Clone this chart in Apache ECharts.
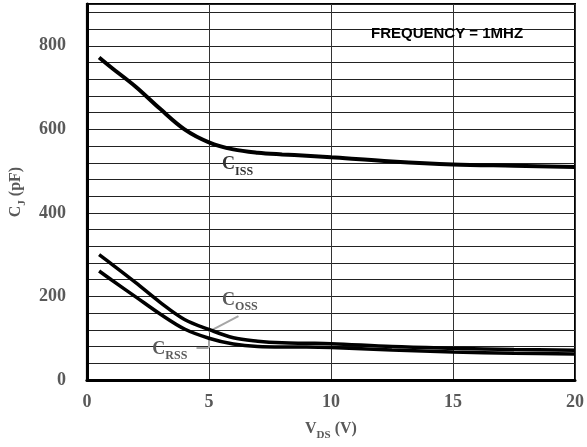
<!DOCTYPE html>
<html>
<head>
<meta charset="utf-8">
<script src="https://cdn.jsdelivr.net/npm/echarts@6/dist/echarts.min.js"></script>
<style>
html, body { margin: 0; padding: 0; background: #fff; }
#chart { width: 587px; height: 447px; }
</style>
</head>
<body>
<div id="chart"></div>
<script>
// drain voltage (V) and junction capacitances (pF)
var vds  = [0.5, 1, 2, 3, 4, 5, 6, 7, 8, 9, 10, 12.5, 15, 17.5, 20];
var ciss = [772, 748, 702, 649, 600, 569, 552, 544, 540, 537, 533, 523, 516, 513, 510];
var coss = [300, 278, 233, 186, 145, 121, 101, 93, 89, 88, 87, 80, 76, 73, 71];
var crss = [261, 240, 199, 158, 122, 100, 86, 80, 79, 79, 78, 72, 67, 64, 62];

// curve names and where their tags sit (data units)
var tagNames = ['ISS', 'OSS', 'RSS'];
var tagAt = [[5.54, 511], [5.54, 186], [2.68, 69]];
// leader lines from tags to curves
var leaders = [
    [[6.21, 153], [4.98, 115]],
    [[4.49, 77], [4.98, 77]],
    [[4.98, 77], [4.98, 98]]
];

function pairs(xs, ys) {
    return xs.map(function (x, i) { return [x, ys[i]]; });
}

var serif = 'Liberation Serif';
var labelGray = '#595959';

var tagRich = {
    c: { fontFamily: serif, fontWeight: 'bold', fontSize: 18, lineHeight: 22, verticalAlign: 'top' },
    s: { fontFamily: serif, fontWeight: 'bold', fontSize: 12, lineHeight: 22, verticalAlign: 'bottom' }
};

function curve(name, data, width) {
    return {
        name: name,
        type: 'line',
        data: pairs(vds, data),
        smooth: 0.35,
        symbol: 'none',
        lineStyle: { color: '#000', width: width },
        z: 5
    };
}

var chart = echarts.init(document.getElementById('chart'));
chart.setOption({
    animation: false,
    title: {
        text: 'FREQUENCY = 1MHZ',
        left: 371,
        top: 26,
        padding: 0,
        textStyle: { fontFamily: 'Liberation Sans', fontWeight: 'bold', fontSize: 15, color: '#000' }
    },
    grid: {
        left: 86, right: 10, top: 4, bottom: 67,
        show: true, borderColor: '#000', borderWidth: 2
    },
    xAxis: {
        type: 'value',
        min: 0, max: 20, interval: 5,
        name: '{v|V}{s|DS}{v| (V)}',
        nameLocation: 'middle',
        nameGap: 41,
        nameTextStyle: {
            rich: {
                v: { fontFamily: serif, fontWeight: 'bold', fontSize: 16, color: labelGray, lineHeight: 20, verticalAlign: 'top' },
                s: { fontFamily: serif, fontWeight: 'bold', fontSize: 11, color: labelGray, lineHeight: 20, verticalAlign: 'bottom' }
            }
        },
        axisLine: { lineStyle: { color: '#000', width: 3 } },
        axisTick: { show: false },
        axisLabel: { fontFamily: serif, fontWeight: 'bold', fontSize: 18, color: labelGray, margin: 13 },
        splitLine: { show: true, lineStyle: { color: '#333', width: 1 } }
    },
    yAxis: {
        type: 'value',
        min: 0, max: 900, interval: 40,
        name: '{v|C}{s|J}{v| (pF)}',
        nameLocation: 'middle',
        nameGap: 58,
        nameRotate: 90,
        nameTextStyle: {
            rich: {
                v: { fontFamily: serif, fontWeight: 'bold', fontSize: 16, color: labelGray, lineHeight: 20, verticalAlign: 'top' },
                s: { fontFamily: serif, fontWeight: 'bold', fontSize: 11, color: labelGray, lineHeight: 20, verticalAlign: 'bottom' }
            }
        },
        axisLine: { lineStyle: { color: '#000', width: 3 } },
        axisTick: { show: false },
        axisLabel: {
            fontFamily: serif, fontWeight: 'bold', fontSize: 18, color: labelGray, margin: 21,
            formatter: function (v) { return v % 200 === 0 ? String(v) : ''; }
        },
        splitLine: { show: true, lineStyle: { color: '#222', width: 1 } }
    },
    series: [
        curve('Ciss', ciss, 4),
        curve('Coss', coss, 3.5),
        curve('Crss', crss, 3.5),
        {
            type: 'line',
            data: [],
            silent: true,
            markLine: {
                silent: true,
                symbol: ['none', 'none'],
                label: { show: false },
                lineStyle: { color: '#a6a6a6', width: 2, type: 'solid' },
                data: leaders.map(function (l) {
                    return [{ coord: l[0] }, { coord: l[1] }];
                })
            },
            markPoint: {
                silent: true,
                symbol: 'circle',
                symbolSize: 0,
                data: tagNames.map(function (n, i) {
                    return {
                        coord: tagAt[i],
                        label: {
                            show: true,
                            position: 'right',
                            distance: 0,
                            formatter: '{c|C}{s|' + n + '}',
                            color: i === 0 ? '#333' : labelGray,
                            rich: tagRich
                        }
                    };
                })
            }
        }
    ]
});
</script>
</body>
</html>
